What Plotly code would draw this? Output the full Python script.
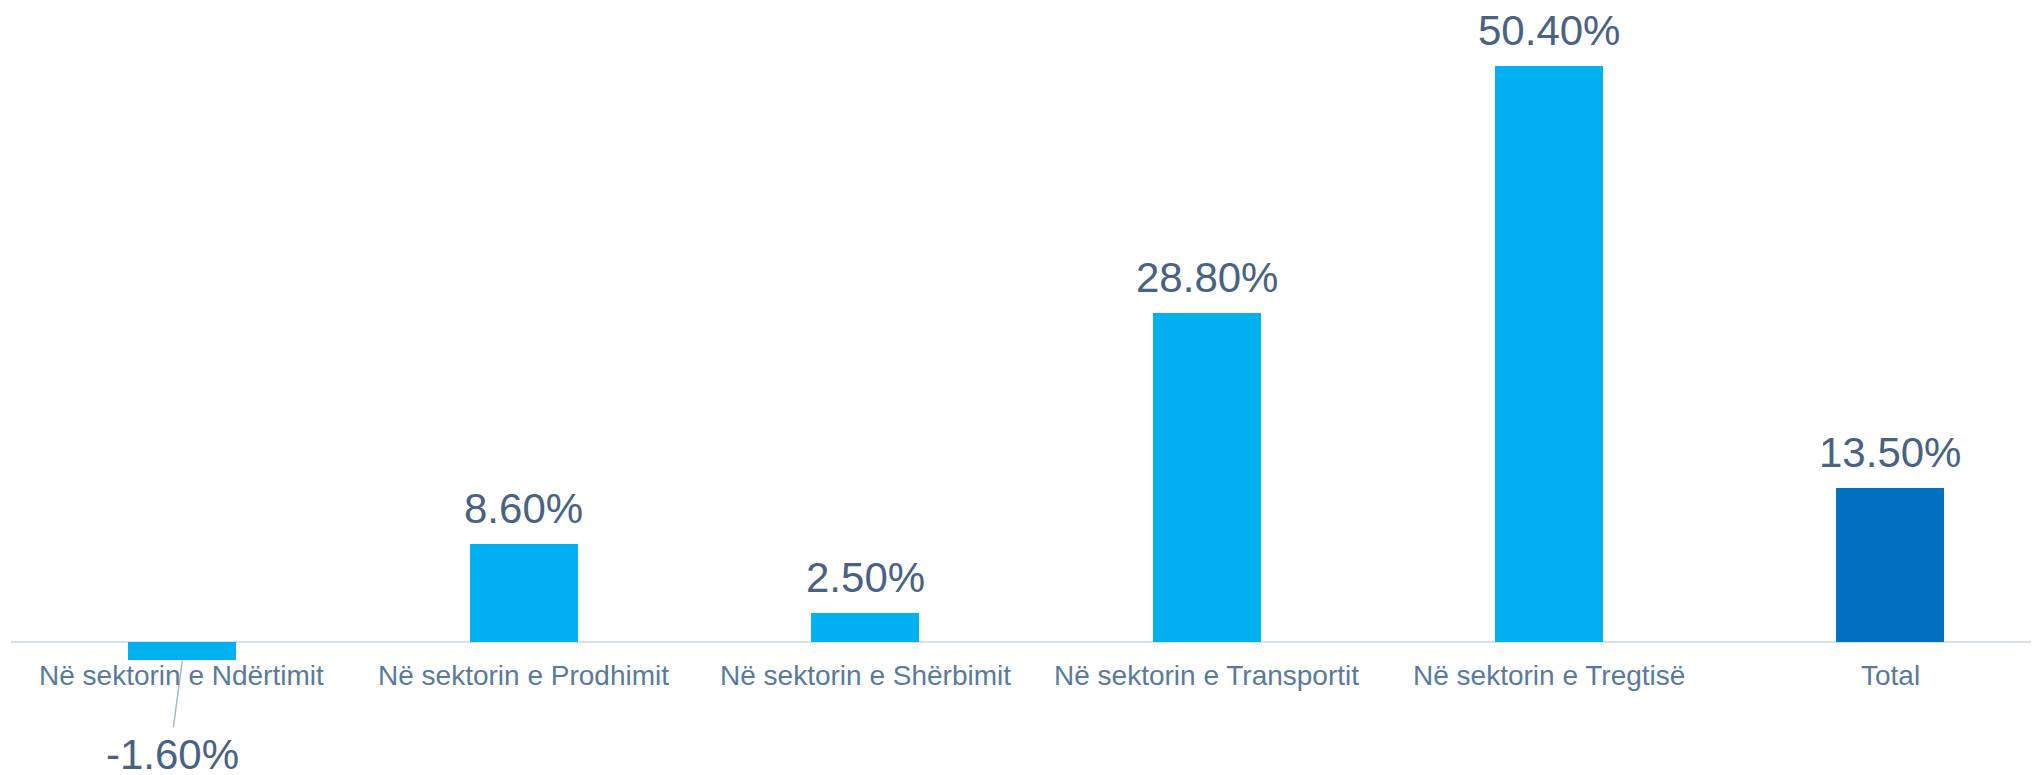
import plotly.graph_objects as go

categories = ["Në sektorin e Ndërtimit", "Në sektorin e Prodhimit", "Në sektorin e Shërbimit",
              "Në sektorin e Transportit", "Në sektorin e Tregtisë", "Total"]
values = [-1.6, 8.6, 2.5, 28.8, 50.4, 13.5]
labels = ["-1.60%", "8.60%", "2.50%", "28.80%", "50.40%", "13.50%"]
colors = ["#00B0F0", "#00B0F0", "#00B0F0", "#00B0F0", "#00B0F0", "#0070C0"]

FONT = "Arial, 'Liberation Sans', sans-serif"
LABEL_COLOR = "#4A6281"
TICK_COLOR = "#5B7A99"

xs = list(range(len(categories)))

fig = go.Figure(go.Bar(x=xs, y=values, marker=dict(color=colors, line=dict(width=0)),
                       width=0.316, hoverinfo="skip"))

annotations = []
for i, (v, t) in enumerate(zip(values, labels)):
    if v >= 0:
        annotations.append(dict(x=i, y=v, text=t, showarrow=False, xref="x", yref="y",
                                yanchor="bottom", yshift=10,
                                font=dict(family=FONT, size=42, color=LABEL_COLOR)))
    else:
        annotations.append(dict(x=i, y=v, text=t, showarrow=False, xref="x", yref="y",
                                yanchor="top", yshift=-70, xshift=-9, borderpad=0,
                                font=dict(family=FONT, size=42, color=LABEL_COLOR)))
for i, c in enumerate(categories):
    annotations.append(dict(x=i, y=0, text=c, showarrow=False, xref="x", yref="y",
                            yanchor="top", yshift=-16,
                            font=dict(family=FONT, size=28, color=TICK_COLOR)))

shapes = []
for i, v in enumerate(values):
    if v < 0:
        shapes.append(dict(type="line", xref="x", yref="y", xsizemode="pixel", ysizemode="pixel",
                           xanchor=i, yanchor=v, x0=0.5, y0=0, x1=-8.5, y1=-67,
                           line=dict(color="#A9B8CB", width=1.5)))

fig.update_layout(
    width=2031, height=767,
    margin=dict(l=3, r=0, t=0, b=0),
    paper_bgcolor="white", plot_bgcolor="white",
    showlegend=False,
    bargap=0,
    annotations=annotations,
    shapes=shapes,
    xaxis=dict(range=[-0.5, -0.5 + 2028 / 341.7], showticklabels=False, showgrid=False,
               zeroline=False, showline=False, ticks=""),
    yaxis=dict(range=[-11.637, 55.475], showticklabels=False, showgrid=False,
               zeroline=True, zerolinecolor="#D9DEE8", zerolinewidth=2, showline=False, ticks=""),
)

fig.write_html("out.html")
